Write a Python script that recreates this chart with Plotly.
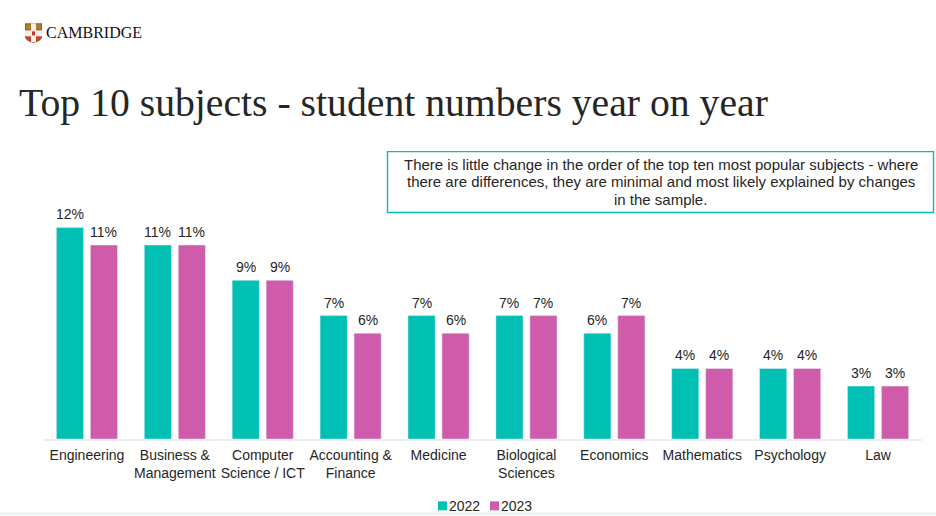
import plotly.graph_objects as go

subjects = ["Engineering", "Business &<br>Management", "Computer<br>Science / ICT", "Accounting &<br>Finance",
            "Medicine", "Biological<br>Sciences", "Economics", "Mathematics", "Psychology", "Law"]
valores_2022 = [12, 11, 9, 7, 7, 7, 6, 4, 4, 3]
valores_2023 = [11, 11, 9, 6, 6, 7, 7, 4, 4, 3]
comentario = ["There is little change in the order of the top ten most popular subjects - where",
              "there are differences, they are minimal and most likely explained by changes",
              "in the sample."]

TEAL = "#00BFB3"
PINK = "#CE5CAB"
TEXTO = "#262626"
SERIF = "Liberation Serif, Georgia, serif"


# pixel da pagina para coordenada paper
def px(x):
    return (x - 43) / 879


def py(y):
    return (439.5 - y) / 239.5


def retangulo(x0, y0, x1, y1, cor, borda=None):
    fig.add_shape(type="rect", xref="paper", yref="paper", x0=px(x0), x1=px(x1), y0=py(y0), y1=py(y1),
                  fillcolor=cor, line=dict(color=borda, width=1.4) if borda else dict(width=0))


fig = go.Figure()

# Barras e rotulos (o rotulo nativo fica colado demais na barra)
for nome, valores, cor, desvio in [("2022", valores_2022, TEAL, -17), ("2023", valores_2023, PINK, 17)]:
    fig.add_trace(go.Bar(x=subjects, y=valores, name=nome, marker_color=cor))
    for s, v in zip(subjects, valores):
        fig.add_annotation(text=f"{v}%", x=s, y=v, xshift=desvio, yshift=13, showarrow=False,
                           xanchor="center", yanchor="middle", font=dict(size=14, color=TEXTO))

fig.update_layout(
    width=936, height=516,
    margin=dict(l=43, r=14, t=200, b=76.5),
    barmode="group", bargap=0.227, bargroupgap=0.2,
    showlegend=False,
    plot_bgcolor="white", paper_bgcolor="white",
    font=dict(family="Liberation Sans, Arial, sans-serif", size=14, color=TEXTO),
    title=dict(text="Top 10 subjects - student numbers year on year", x=19 / 936, xanchor="left",
               y=1 - 102 / 516, yanchor="middle", font=dict(family=SERIF, size=39.7, color=TEXTO)),
)
fig.update_xaxes(showline=True, linecolor="#EDEDED", linewidth=2, ticks="", ticklabelstandoff=2,
                 tickfont=dict(size=14, color=TEXTO), showgrid=False)
fig.update_yaxes(visible=False, range=[0, 239.5 / 17.67], showgrid=False, zeroline=False)

# caixa de comentario
retangulo(387.5, 151.5, 933.5, 212.5, "white", TEAL)
for linha, y in zip(comentario, [164, 181.5, 199]):
    fig.add_annotation(text=linha, xref="paper", yref="paper", x=px(660.5), y=py(y), showarrow=False,
                       font=dict(size=15, color=TEXTO), xanchor="center", yanchor="middle")

# legenda
retangulo(438, 502, 447, 511, TEAL)
retangulo(490, 502, 499, 511, PINK)
for nome, x in [("2022", 449), ("2023", 501)]:
    fig.add_annotation(text=nome, xref="paper", yref="paper", x=px(x), y=py(506.5), showarrow=False,
                       font=dict(size=14, color=TEXTO), xanchor="left", yanchor="middle", xshift=-2)

# logo
fig.add_shape(type="path", xref="paper", yref="paper",
              path=f"M {px(25)} {py(23)} L {px(42)} {py(23)} L {px(42)} {py(37)} "
                   f"Q {px(41)} {py(41)} {px(33.5)} {py(43)} Q {px(26)} {py(41)} {px(25)} {py(37)} Z",
              fillcolor="#B8482A", line=dict(width=0))
retangulo(26, 24, 32, 29, "#A9812B")
retangulo(35, 24, 41, 29, "#A9812B")
retangulo(25, 30, 42, 36, "#F4EEE6")
retangulo(31, 23, 36, 42, "#F4EEE6")
retangulo(32, 31, 35, 35, "#C0392B")
fig.add_annotation(text="CAMBRIDGE", xref="paper", yref="paper", x=px(46), y=py(32), showarrow=False,
                   font=dict(family=SERIF, size=16, color="#111111"), xanchor="left", yanchor="middle", xshift=-2)

# faixa cinza no rodape
retangulo(0, 513, 936, 516, "#EEF1F4")

fig.write_html("out.html", config=dict(displayModeBar=False), post_script="document.body.style.margin='0';")
